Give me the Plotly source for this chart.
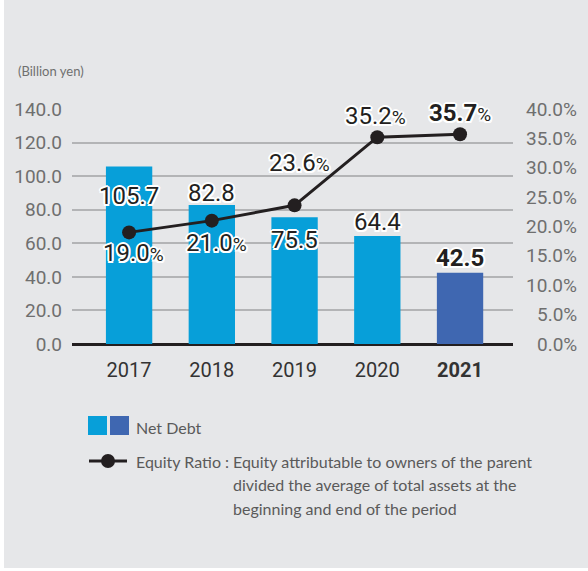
import plotly.graph_objects as go

# Data
years = ["2017", "2018", "2019", "2020", "2021"]
net_debt = [105.7, 82.8, 75.5, 64.4, 42.5]
equity_ratio = [19.0, 21.0, 23.6, 35.2, 35.7]
debt_ticks = [0, 20, 40, 60, 80, 100, 120, 140]
ratio_ticks = [0, 5, 10, 15, 20, 25, 30, 35, 40]

# Styling
BG = "#e6e7e9"
BLUE = "#079fd9"
BLUE_DARK = "#3f67b1"
INK = "#231f20"
TICK_GRAY = "#6f6f6f"
LEGEND_GRAY = "#5a5a5a"
NUM_FONT = "Roboto"
TXT_FONT = "Lato"
HALO = ("-2px 0 0 #fff, 2px 0 0 #fff, 0 -2px 0 #fff, 0 2px 0 #fff, "
        "-1.5px -1.5px 0 #fff, 1.5px -1.5px 0 #fff, -1.5px 1.5px 0 #fff, 1.5px 1.5px 0 #fff")

bar_colors = [BLUE] * (len(years) - 1) + [BLUE_DARK]

# offsets (px) of the value labels relative to their marks
debt_label_shift = [-29, 12, -23, 14, 15]
ratio_label_shift = [-21, -22, 42, 21, 21]
ratio_label_xshift = [4, 5, 5, -2, 0]

fig = go.Figure()

fig.add_trace(go.Bar(
    x=years, y=net_debt, marker=dict(color=bar_colors, line=dict(width=0)),
    width=0.56, showlegend=False, hoverinfo="skip",
))

fig.add_trace(go.Scatter(
    x=years, y=equity_ratio, yaxis="y2", mode="lines+markers",
    line=dict(color=INK, width=3), marker=dict(color=INK, size=14),
    showlegend=False, hoverinfo="skip",
))

annotations = []
last = len(years) - 1


def value_label(i, y, yref, text, dx, dy):
    annotations.append(dict(
        x=i, y=y, xref="x", yref=yref, text=text, showarrow=False,
        xshift=dx, yshift=dy, yanchor="middle", xanchor="center",
        font=dict(family=NUM_FONT, size=24, color=INK, shadow=HALO),
    ))


# Net debt value labels
for i, v in enumerate(net_debt):
    txt = f"{v:.1f}"
    if i == last:
        txt = f"<b>{txt}</b>"
    value_label(i, v, "y", txt, 0, debt_label_shift[i])

# Equity ratio value labels
for i, v in enumerate(equity_ratio):
    num = f"{v:.1f}"
    if i == last:
        num = f"<b>{num}</b>"
    txt = num + "<span style='font-size:19px'>%</span>"
    value_label(i, v, "y2", txt, ratio_label_xshift[i], ratio_label_shift[i])

# Right axis tick labels, right-aligned
for t in ratio_ticks:
    annotations.append(dict(
        x=1, y=t, xref="paper", yref="y2", text=f"{t:.1f}%", showarrow=False,
        xanchor="right", yanchor="middle", xshift=66,
        font=dict(family=NUM_FONT, size=19, color=TICK_GRAY),
    ))

W, H = 588, 571
ML, MR, MT, MB = 72, 75, 109, 227
PW, PH = W - ML - MR, H - MT - MB


def px(x):
    return (x - ML) / PW


def py(y):
    return (H - MB - y) / PH


# Unit caption
annotations.append(dict(
    x=px(16), y=py(71), xref="paper", yref="paper", text="(Billion yen)", showarrow=False,
    xanchor="left", yanchor="middle",
    font=dict(family=TXT_FONT, size=13, color=TICK_GRAY),
))

# Legend text
legend_font = dict(family=TXT_FONT, size=16, color=LEGEND_GRAY)
annotations.append(dict(x=px(134), y=py(427), xref="paper", yref="paper", text="Net Debt",
                        showarrow=False, xanchor="left", yanchor="middle", font=legend_font))
annotations.append(dict(x=px(134), y=py(461), xref="paper", yref="paper", text="Equity Ratio :",
                        showarrow=False, xanchor="left", yanchor="middle", font=legend_font))
desc_lines = ["Equity attributable to owners of the parent",
              "divided the average of total assets at the",
              "beginning and end of the period"]
for k, line in enumerate(desc_lines):
    annotations.append(dict(x=px(231), y=py(461 + 23.5 * k), xref="paper", yref="paper", text=line,
                            showarrow=False, xanchor="left", yanchor="middle", font=legend_font))

shapes = [
    # white frame strips at the left and bottom edges
    dict(type="rect", xref="paper", yref="paper", x0=px(0), x1=px(4), y0=py(H), y1=py(0),
         fillcolor="white", line=dict(width=0), layer="below"),
    dict(type="rect", xref="paper", yref="paper", x0=px(0), x1=px(W), y0=py(H), y1=py(568),
         fillcolor="white", line=dict(width=0), layer="below"),
    # legend swatches
    dict(type="rect", xref="paper", yref="paper", x0=px(88), x1=px(107), y0=py(435), y1=py(416),
         fillcolor=BLUE, line=dict(width=0)),
    dict(type="rect", xref="paper", yref="paper", x0=px(110), x1=px(129), y0=py(435), y1=py(416),
         fillcolor=BLUE_DARK, line=dict(width=0)),
    dict(type="line", xref="paper", yref="paper", x0=px(89), x1=px(127), y0=py(461), y1=py(461),
         line=dict(color=INK, width=3)),
    dict(type="circle", xref="paper", yref="paper", x0=px(101), x1=px(115), y0=py(468), y1=py(454),
         fillcolor=INK, line=dict(width=0)),
]

fig.update_layout(
    width=W, height=H,
    margin=dict(l=ML, r=MR, t=MT, b=MB, pad=0),
    paper_bgcolor=BG, plot_bgcolor=BG,
    xaxis=dict(
        type="category", range=[-0.69, 4.64],
        tickvals=years,
        ticktext=years[:-1] + [f"<b>{years[-1]}</b>"],
        tickfont=dict(family=NUM_FONT, size=20, color="#333333"),
        showgrid=False, zeroline=False, showline=False, ticks="",
        ticklabelstandoff=12,
    ),
    yaxis=dict(
        range=[0, 140], tickvals=debt_ticks, ticktext=[f"{t:.1f}" for t in debt_ticks],
        tickfont=dict(family=NUM_FONT, size=19, color=TICK_GRAY),
        showgrid=True, gridcolor="#b3b4b6", gridwidth=2,
        zeroline=True, zerolinecolor=INK, zerolinewidth=3,
        showline=False, ticks="", ticklabelstandoff=9,
    ),
    yaxis2=dict(
        range=[0, 40], overlaying="y", side="right", tickvals=ratio_ticks,
        showticklabels=False, showgrid=False, zeroline=False, showline=False,
    ),
    annotations=annotations,
    shapes=shapes,
)

fig.write_html("out.html")
